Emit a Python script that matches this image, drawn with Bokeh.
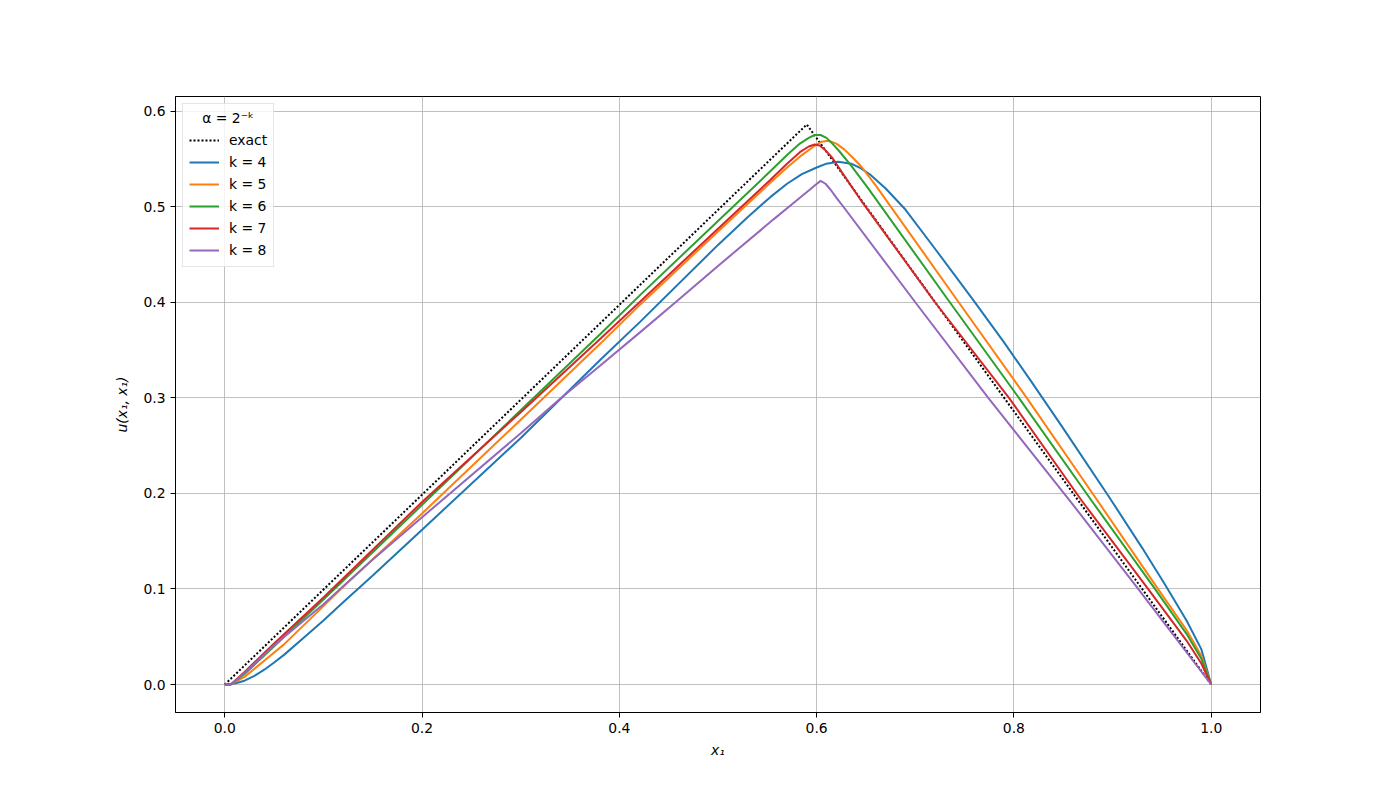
from bokeh.plotting import figure
from bokeh.models import Range1d, FixedTicker, PrintfTickFormatter
from bokeh.embed import file_html
from bokeh.resources import INLINE

# ---- data ----
exact_x = [0.0, 0.59, 1.0]
exact_y = [0.0, 0.586, 0.0]

k4_x = [0.0, 0.01, 0.02, 0.03, 0.04, 0.05, 0.06, 0.08, 0.1, 0.12, 0.15, 0.2, 0.3, 0.381, 0.4215, 0.5, 0.53, 0.553,
        0.57, 0.585, 0.60, 0.61, 0.622, 0.635, 0.645, 0.655, 0.67, 0.69, 0.72, 0.759, 0.79, 0.817, 0.85, 0.896,
        0.93, 0.953, 0.975, 0.99, 1.0]
k4_y = [0.0, 0.001, 0.004, 0.009, 0.0155, 0.023, 0.031, 0.049, 0.067, 0.086, 0.114, 0.162, 0.258, 0.340, 0.380, 0.460,
        0.489, 0.510, 0.524, 0.534, 0.541, 0.545, 0.547, 0.545, 0.540, 0.533, 0.519, 0.497, 0.456, 0.402, 0.358, 0.318,
        0.268, 0.197, 0.143, 0.105, 0.067, 0.037, 0.0]

k5_x = [0.0, 0.006, 0.02, 0.043, 0.06, 0.1, 0.1175, 0.2, 0.3, 0.381, 0.4215, 0.5, 0.553, 0.57, 0.585, 0.597, 0.605,
        0.612, 0.62, 0.628, 0.637, 0.646, 0.66, 0.68, 0.744, 0.813, 0.885, 0.946, 0.975, 0.99, 1.0]
k5_y = [0.0, 0.0, 0.008, 0.0275, 0.042, 0.082, 0.100, 0.179, 0.277, 0.357, 0.398, 0.474, 0.525, 0.541, 0.554, 0.563, 0.568,
        0.569, 0.566, 0.560, 0.551, 0.541, 0.522, 0.493, 0.400, 0.300, 0.192, 0.100, 0.057, 0.030, 0.0]

k6_x = [0.0, 0.006, 0.02, 0.05, 0.1, 0.2, 0.3, 0.381, 0.4215, 0.5, 0.553, 0.57, 0.583, 0.592, 0.598, 0.604, 0.61,
        0.616, 0.623, 0.635, 0.651, 0.735, 0.805, 0.879, 0.943, 0.975, 0.99, 1.0]
k6_y = [0.0, 0.0, 0.011, 0.040, 0.089, 0.188, 0.287, 0.367, 0.408, 0.485, 0.537, 0.554, 0.566, 0.572, 0.575, 0.575, 0.572,
        0.566, 0.558, 0.543, 0.521, 0.400, 0.300, 0.192, 0.100, 0.053, 0.027, 0.0]

k7_x = [0.0, 0.006, 0.02, 0.05, 0.1, 0.2, 0.3, 0.381, 0.4215, 0.5, 0.553, 0.57, 0.583, 0.592, 0.598, 0.603, 0.609,
        0.616, 0.625, 0.644, 0.720, 0.795, 0.869, 0.936, 0.975, 0.99, 1.0]
k7_y = [0.0, 0.0, 0.013, 0.043, 0.091, 0.191, 0.285, 0.362, 0.401, 0.477, 0.528, 0.545, 0.557, 0.563, 0.565, 0.564, 0.559,
        0.551, 0.537, 0.508, 0.400, 0.300, 0.192, 0.100, 0.046, 0.022, 0.0]

k8_x = [0.0, 0.006, 0.02, 0.05, 0.1, 0.148, 0.2, 0.3, 0.34, 0.381, 0.4215, 0.457, 0.5, 0.5566, 0.579, 0.592, 0.599,
        0.604, 0.609, 0.614, 0.62, 0.63, 0.70, 0.774, 0.857, 0.926, 1.0]
k8_y = [0.0, 0.0, 0.012, 0.041, 0.084, 0.129, 0.175, 0.263, 0.299, 0.334, 0.369, 0.400, 0.438, 0.487, 0.506, 0.517, 0.523,
        0.527, 0.524, 0.518, 0.5095, 0.496, 0.400, 0.300, 0.192, 0.100, 0.0]

series = [
    ("k = 4", k4_x, k4_y, "#1f77b4"),
    ("k = 5", k5_x, k5_y, "#ff7f0e"),
    ("k = 6", k6_x, k6_y, "#2ca02c"),
    ("k = 7", k7_x, k7_y, "#d62728"),
    ("k = 8", k8_x, k8_y, "#9467bd"),
]

x_ticks = [0.0, 0.2, 0.4, 0.6, 0.8, 1.0]
y_ticks = [0.0, 0.1, 0.2, 0.3, 0.4, 0.5, 0.6]

FONT = "DejaVu Sans"
FS = "13.9px"

p = figure(
    frame_width=1085, frame_height=616,
    min_border_left=175, min_border_right=140, min_border_top=96, min_border_bottom=88,
    x_range=Range1d(-0.05, 1.05), y_range=Range1d(-0.0293, 0.6153),
    output_backend="svg", toolbar_location=None,
)
p.background_fill_color = "white"
p.border_fill_color = "white"
p.outline_line_color = "black"
p.outline_line_width = 1

p.line(exact_x, exact_y, line_color="black", line_width=2, line_dash="2 2", legend_label="exact")
for lab, xs, ys, col in series:
    p.line(xs, ys, line_color=col, line_width=2, legend_label=lab)

p.xaxis.ticker = FixedTicker(ticks=x_ticks)
p.yaxis.ticker = FixedTicker(ticks=y_ticks)
p.xaxis.formatter = PrintfTickFormatter(format="%.1f")
p.yaxis.formatter = PrintfTickFormatter(format="%.1f")
for ax in [p.xaxis[0], p.yaxis[0]]:
    ax.axis_line_color = "black"
    ax.major_tick_line_color = "black"
    ax.major_tick_out = 5
    ax.major_tick_in = 0
    ax.minor_tick_line_color = None
    ax.major_label_text_font = FONT
    ax.major_label_text_font_size = FS
    ax.major_label_text_color = "black"
    ax.major_label_standoff = 5
    ax.axis_label_text_font = FONT
    ax.axis_label_text_font_size = FS
    ax.axis_label_text_font_style = "italic"
    ax.axis_label_text_color = "black"
p.xaxis.axis_label = "x₁"
p.yaxis.axis_label = "u(x₁, x₁)"
p.xaxis.axis_label_standoff = 6
p.yaxis.axis_label_standoff = 10

p.grid.grid_line_color = "#b0b0b0"
p.grid.grid_line_width = 0.8

lg = p.legend[0]
lg.location = "top_left"
lg.title = "\u00a0\u00a0\u00a0α = 2⁻ᵏ"
lg.title_text_font = FONT
lg.title_text_font_size = FS
lg.title_text_font_style = "normal"
lg.title_text_color = "black"
lg.title_standoff = 4
lg.label_text_font = FONT
lg.label_text_font_size = FS
lg.label_text_color = "black"
lg.border_line_color = "#cccccc"
lg.background_fill_alpha = 0.8
lg.margin = 7
lg.padding = 6
lg.spacing = 2
lg.glyph_width = 30
lg.glyph_height = 20
lg.label_height = 20
lg.label_standoff = 10

open("out.html", "w").write(file_html(p, INLINE))
